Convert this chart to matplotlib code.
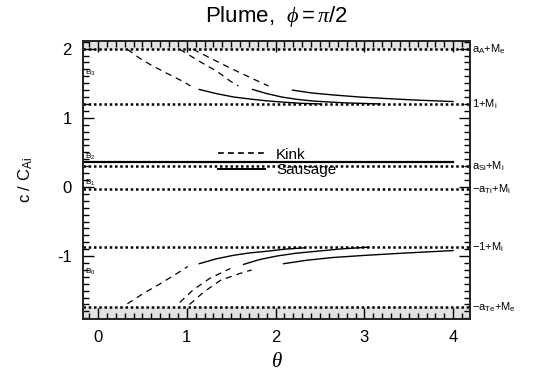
import numpy as np
import matplotlib
matplotlib.use("Agg")
import matplotlib.pyplot as plt
from matplotlib.ticker import MultipleLocator

plt.rcParams['font.family'] = ['Liberation Sans', 'DejaVu Sans']
plt.rcParams['mathtext.fontset'] = 'custom'
plt.rcParams['mathtext.rm'] = 'Liberation Sans'
plt.rcParams['mathtext.it'] = 'Liberation Serif:italic'
plt.rcParams['axes.unicode_minus'] = False

# characteristic speed levels (dotted lines), top to bottom
level_vals = [1.99, 1.20, 0.30, -0.03, -0.87, -1.74]
level_labels = [r'a$_\mathrm{A}$+M$_\mathrm{e}$', r'1+M$_\mathrm{i}$',
                r'a$_\mathrm{Si}$+M$_\mathrm{i}$', r'$\mathrm{-}$a$_\mathrm{Ti}$+M$_\mathrm{i}$',
                r'$\mathrm{-}$1+M$_\mathrm{i}$', r'$\mathrm{-}$a$_\mathrm{Te}$+M$_\mathrm{e}$']

# flat slow sausage branch
flat_theta = [-0.17, 4.0]
flat_c = [0.36, 0.36]

# upper branches (kink dashed, sausage solid)
kinkA_up_t = [0.33, 0.47, 0.60, 0.78, 0.98, 1.04]
kinkA_up_c = [1.99, 1.86, 1.76, 1.64, 1.51, 1.46]
sausA_up_t = [1.14, 1.33, 1.53, 1.72, 1.90, 2.10, 2.28, 2.50]
sausA_up_c = [1.41, 1.35, 1.30, 1.27, 1.245, 1.225, 1.21, 1.20]
kinkB_up_t = [0.92, 1.15, 1.34, 1.49, 1.58]
kinkB_up_c = [1.99, 1.81, 1.67, 1.53, 1.46]
sausB_up_t = [1.74, 1.90, 2.07, 2.25, 2.44, 2.80, 3.18]
sausB_up_c = [1.41, 1.35, 1.30, 1.265, 1.24, 1.215, 1.20]
kinkC_up_t = [1.07, 1.30, 1.52, 1.75, 1.92]
kinkC_up_c = [1.99, 1.84, 1.70, 1.56, 1.46]
sausC_up_t = [2.19, 2.40, 2.65, 2.95, 3.22, 3.60, 4.0]
sausC_up_c = [1.40, 1.36, 1.33, 1.30, 1.28, 1.255, 1.235]

# lower branches
kinkA_lo_t = [0.33, 0.51, 0.70, 0.89, 1.01]
kinkA_lo_c = [-1.69, -1.54, -1.40, -1.25, -1.15]
sausA_lo_t = [1.14, 1.33, 1.52, 1.70, 1.90, 2.10, 2.33]
sausA_lo_c = [-1.11, -1.04, -0.99, -0.955, -0.93, -0.90, -0.88]
kinkB_lo_t = [0.92, 1.07, 1.26, 1.49]
kinkB_lo_c = [-1.67, -1.49, -1.32, -1.18]
sausB_lo_t = [1.64, 1.82, 2.01, 2.22, 2.46, 2.75, 3.05]
sausB_lo_c = [-1.12, -1.05, -1.00, -0.96, -0.93, -0.895, -0.87]
kinkC_lo_t = [1.03, 1.19, 1.38, 1.60, 1.73]
kinkC_lo_c = [-1.70, -1.52, -1.35, -1.25, -1.20]
sausC_lo_t = [2.09, 2.35, 2.65, 3.00, 3.40, 3.70, 4.0]
sausC_lo_c = [-1.11, -1.06, -1.02, -0.99, -0.96, -0.94, -0.92]

band_labels = [r'B$_\mathrm{3}$', r'B$_\mathrm{2}$', r'B$_\mathrm{1}$', r'B$_\mathrm{0}$']
band_pos = [1.65, 0.43, 0.06, -1.23]

xlim = (-0.17, 4.19)
ylim = (-1.91, 2.11)

fig = plt.figure(figsize=(5.45, 3.74), dpi=100)
ax = fig.add_axes([0.1523, 0.147, 0.7101, 0.7433])

# shaded regions beyond the outer speeds
ax.axhspan(level_vals[0], ylim[1], color='#e2e2e2', zorder=0)
ax.axhspan(ylim[0], level_vals[-1], color='#e2e2e2', zorder=0)

for v in level_vals:
    ax.axhline(v, color='black', lw=1.8, ls=(0, (1, 1.1)), zorder=2)

dash = (0, (5, 4))
kink = [(kinkA_up_t, kinkA_up_c), (kinkB_up_t, kinkB_up_c), (kinkC_up_t, kinkC_up_c),
        (kinkA_lo_t, kinkA_lo_c), (kinkB_lo_t, kinkB_lo_c), (kinkC_lo_t, kinkC_lo_c)]
saus = [(sausA_up_t, sausA_up_c), (sausB_up_t, sausB_up_c), (sausC_up_t, sausC_up_c),
        (sausA_lo_t, sausA_lo_c), (sausB_lo_t, sausB_lo_c), (sausC_lo_t, sausC_lo_c)]
for t, c in kink:
    ax.plot(t, c, color='black', lw=0.9, ls=dash)
for t, c in saus:
    ax.plot(t, c, color='black', lw=1.0)
ax.plot(flat_theta, flat_c, color='black', lw=1.6)

# legend
ax.plot([], [], color='black', lw=1.2, ls=(0, (3.5, 2.5)), label='Kink')
ax.plot([], [], color='black', lw=1.4, label='Sausage')
ax.legend(loc='center left', bbox_to_anchor=(0.349, 0.563), frameon=False,
          fontsize=11, handlelength=3.1, handletextpad=0.7, labelspacing=0.1,
          borderpad=0, borderaxespad=0)

for lab, v in zip(level_labels, level_vals):
    ax.text(1.006, v, lab, transform=ax.get_yaxis_transform(), fontsize=8,
            va='center', ha='left')
for lab, v in zip(band_labels, band_pos):
    ax.text(-0.15, v, lab, fontsize=6, va='center', ha='left')

ax.set_xlim(*xlim)
ax.set_ylim(*ylim)
ax.xaxis.set_major_locator(MultipleLocator(1))
ax.xaxis.set_minor_locator(MultipleLocator(0.1))
ax.yaxis.set_major_locator(MultipleLocator(1))
ax.yaxis.set_minor_locator(MultipleLocator(0.1))
ax.tick_params(which='both', direction='in', top=True, right=True, width=1.0)
ax.tick_params(which='major', length=8, labelsize=12, pad=8)
ax.tick_params(which='minor', length=4)
for s in ax.spines.values():
    s.set_linewidth(1.4)
    s.set_color('#222222')

ax.set_title(r'Plume,  $\phi=\pi/2$', fontsize=16, pad=14)
ax.set_xlabel(r'$\theta$', fontsize=15, labelpad=5)
ax.set_ylabel(r'c / C$_\mathrm{Ai}$', fontsize=12, labelpad=16)

fig.savefig('out.png', dpi=100)
